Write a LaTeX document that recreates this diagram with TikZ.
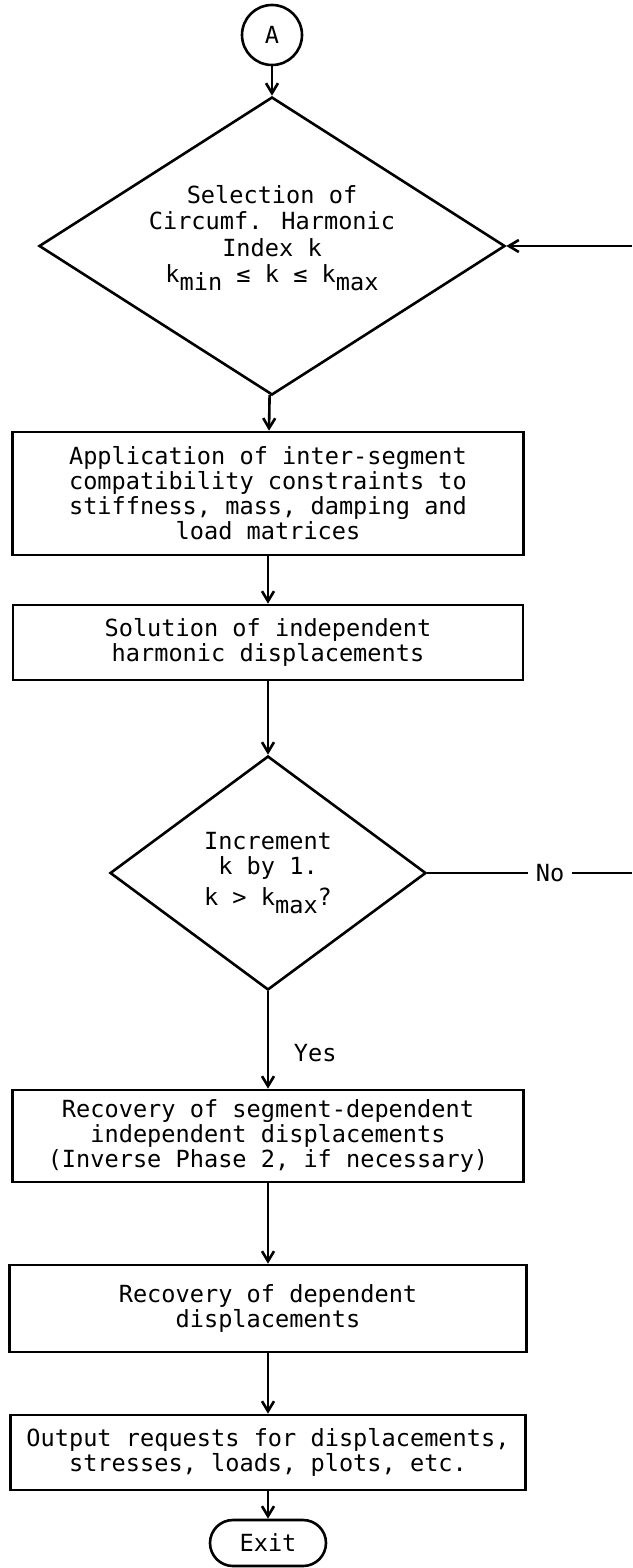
\documentclass[tikz,border=0pt]{standalone}
\usepackage{fontspec}
\setmainfont{DejaVu Sans Mono}
\usetikzlibrary{shapes.geometric,arrows.meta}
\newcommand{\lowsub}[1]{\raisebox{-0.6ex}{#1}}

\begin{document}
\begin{tikzpicture}[x=0.5pt,y=-0.5pt,line width=1.3pt,
    every node/.style={font=\fontsize{11.8pt}{12.5pt}\selectfont,align=center},
    box/.style={draw,rectangle,inner sep=0pt},
    decision/.style={draw,diamond,inner sep=0pt},
    flow/.style={-{Straight Barb[length=5pt,width=6pt]}}]
    \useasboundingbox (0,0) rectangle (632,1568);

    % draw start connector and decisions
    \node[draw,circle,minimum size=30pt,inner sep=0pt] (A) at (272,35) {A};
    \node[decision,aspect=1.56,minimum width=233pt,minimum height=149pt] (select) at (272,246)
        {Selection of\\[0.6pt]Circumf. Harmonic\\[0.6pt]Index k\\[0.6pt]k\lowsub{min} ≤ k ≤ k\lowsub{max}\rule[-12pt]{0pt}{12pt}};
    \node[decision,aspect=1.35,minimum width=158pt,minimum height=117pt] (incr) at (268,873)
        {Increment\\k by 1.\\[3pt]k > k\lowsub{max}?};

    % draw boxes
    \node[box,minimum width=255.5pt,minimum height=61.5pt] (apply) at (268,493.5)
        {Application of inter-segment\\compatibility constraints to\\stiffness, mass, damping and\\load matrices};
    \node[box,minimum width=255pt,minimum height=37.5pt] (solve) at (268,642.5)
        {Solution of independent\\harmonic displacements};
    \node[box,minimum width=255.5pt,minimum height=46pt] (recseg) at (268,1136)
        {Recovery of segment-dependent\\independent displacements\\(Inverse Phase 2, if necessary)};
    \node[box,minimum width=258.5pt,minimum height=43.5pt] (recdep) at (268,1308.5)
        {Recovery of dependent\\displacements};
    \node[box,minimum width=257.5pt,minimum height=37.5pt] (output) at (268,1452.5)
        {Output requests for displacements,\\stresses, loads, plots, etc.};
    \node[draw,rounded corners=11.5pt,minimum width=58pt,minimum height=23pt] (exit) at (268,1543) {Exit};

    % draw connectors
    \coordinate (loopin) at (632,246);
    \coordinate (loopout) at (632,873);
    \draw[flow] (A) -- (select);
    \draw[flow] (select) -- (apply);
    \draw[flow] (apply) -- (solve);
    \draw[flow] (solve) -- (incr);
    \draw[flow] (incr) -- node[pos=0.63,right=9pt] {Yes} (recseg);
    \draw[flow] (recseg) -- (recdep);
    \draw[flow] (recdep) -- (output);
    \draw[flow] (output) -- (exit);
    \draw (incr.east) -- node[pos=0.6,fill=white,inner sep=4pt] {No} (loopout);
    \draw[flow] (loopin) -- (select.east);
\end{tikzpicture}
\end{document}
